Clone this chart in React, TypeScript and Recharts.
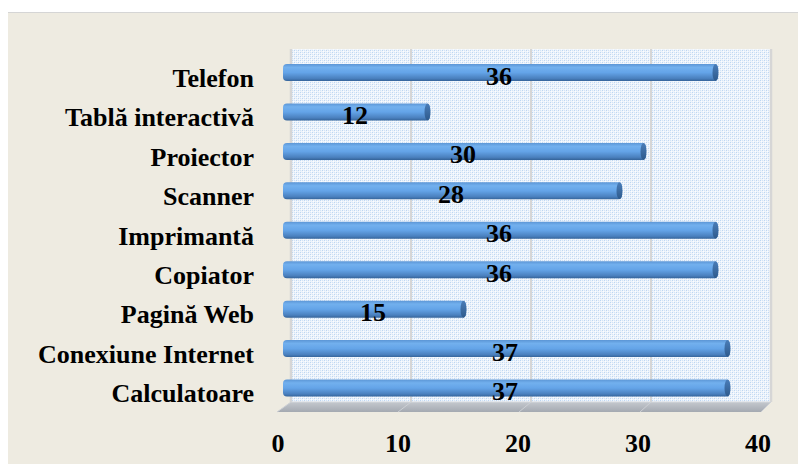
import { BarChart, Bar, XAxis, YAxis, LabelList, ReferenceArea } from "recharts";

const categories = [
  "Telefon",
  "Tablă interactivă",
  "Proiector",
  "Scanner",
  "Imprimantă",
  "Copiator",
  "Pagină Web",
  "Conexiune Internet",
  "Calculatoare",
];
const values = [36, 12, 30, 28, 36, 36, 15, 37, 37];
const xTicks = [0, 10, 20, 30, 40];

const data = categories.map((name, i) => ({ name, value: values[i] }));

const FONT = '"Liberation Serif", "Times New Roman", serif';

// back wall + floor of the pseudo-3D plot, drawn from the plot box that recharts hands us
const Walls = (props: any) => {
  const { x, y, width, height } = props;
  const wx = x + 5;
  const wy = y - 4;
  const wb = y + height - 6;
  const fb = y + height + 4;
  const step = width / (xTicks.length - 1);
  return (
    <g>
      <rect x={wx} y={wy} width={width} height={wb - wy} fill="url(#dots)" />
      {xTicks.map((t, i) => (
        <line
          key={t}
          x1={wx + i * step}
          x2={wx + i * step}
          y1={wy}
          y2={wb}
          stroke="#D6D6D6"
          strokeWidth={i === 0 || i === xTicks.length - 1 ? 2.5 : 2}
        />
      ))}
      <polygon
        points={`${wx},${wb} ${wx + width},${wb} ${x + width - 5},${fb} ${x - 9},${fb}`}
        fill="url(#floor)"
      />
      {xTicks.map((t, i) => (
        <line
          key={"f" + t}
          x1={wx + i * step}
          y1={wb}
          x2={x - 9 + i * ((width + 4) / (xTicks.length - 1))}
          y2={fb}
          stroke="#CDD0D5"
          strokeWidth={1}
        />
      ))}
      <line x1={wx} x2={wx + width} y1={wb} y2={wb} stroke="#D4D7DB" strokeWidth={1} />
    </g>
  );
};

// cylinder-ish bar with rounded ends and a darker right cap
const Cylinder = (props: any) => {
  const { x, y, width, height } = props;
  if (width <= 0) return null;
  const x0 = x - 3;
  const w = width + 3;
  return (
    <g>
      <rect x={x0} y={y} width={w} height={height} rx={4} fill="url(#cyl)" />
      <ellipse
        cx={x + width - 2.5}
        cy={y + height / 2}
        rx={3}
        ry={height / 2}
        fill="url(#cap)"
      />
    </g>
  );
};

const CatTick = (props: any) => {
  const { x, y, payload } = props;
  return (
    <text
      x={x - 24}
      y={y + 14}
      textAnchor="end"
      fontFamily={FONT}
      fontWeight="bold"
      fontSize={26}
      fill="#000"
    >
      {payload.value}
    </text>
  );
};

const NumTick = (props: any) => {
  const { x, y, payload } = props;
  return (
    <text
      x={x - 8}
      y={y + 36}
      textAnchor="middle"
      fontFamily={FONT}
      fontWeight="bold"
      fontSize={26}
      fill="#000"
    >
      {payload.value}
    </text>
  );
};

const ValueLabel = (props: any) => {
  const { x, y, width, height, value } = props;
  return (
    <text
      x={x + width / 2 - 3}
      y={y + height / 2 + 12}
      textAnchor="middle"
      fontFamily={FONT}
      fontWeight="bold"
      fontSize={26}
      fill="#000"
    >
      {value}
    </text>
  );
};

export default function App() {
  return (
    <div
      style={{
        position: "relative",
        width: 806,
        height: 472,
        margin: -8,
        background: "#fff",
        overflow: "hidden",
      }}
    >
      <div
        style={{
          position: "absolute",
          left: 6,
          top: 12,
          width: 820,
          height: 480,
          background: "#EEEBE1",
          border: "1px solid #D5D5D5",
        }}
      />
      <div style={{ position: "absolute", left: 0, top: 0 }}>
        <BarChart
          width={806}
          height={472}
          data={data}
          layout="vertical"
          margin={{ top: 53, right: 40, left: 0, bottom: 34 }}
          barSize={17}
        >
          <defs>
            <pattern id="dots" width="4" height="4" patternUnits="userSpaceOnUse">
              <rect width="4" height="4" fill="#EEF4FB" />
              <rect x="0" y="0" width="1" height="1" fill="#BDD6F2" />
              <rect x="2" y="2" width="1" height="1" fill="#BDD6F2" />
              <rect x="2" y="0" width="1" height="1" fill="#D3E4F7" />
              <rect x="0" y="2" width="1" height="1" fill="#D3E4F7" />
              <rect x="1" y="1" width="1" height="1" fill="#FAFCFF" />
              <rect x="3" y="3" width="1" height="1" fill="#FAFCFF" />
            </pattern>
            <linearGradient id="floor" x1="0" y1="0" x2="0" y2="1">
              <stop offset="0%" stopColor="#C4C8CE" />
              <stop offset="100%" stopColor="#A4A9B1" />
            </linearGradient>
            <linearGradient id="cyl" x1="0" y1="0" x2="0" y2="1">
              <stop offset="0%" stopColor="#5C96D6" />
              <stop offset="20%" stopColor="#72B0EE" />
              <stop offset="50%" stopColor="#64A4E8" />
              <stop offset="85%" stopColor="#4A80BE" />
              <stop offset="100%" stopColor="#35649A" />
            </linearGradient>
            <linearGradient id="cap" x1="0" y1="0" x2="0" y2="1">
              <stop offset="0%" stopColor="#4A7DB8" />
              <stop offset="100%" stopColor="#2E5A8C" />
            </linearGradient>
          </defs>
          <ReferenceArea x1={0} x2={40} shape={<Walls />} ifOverflow="visible" />
          <XAxis
            type="number"
            domain={[0, 40]}
            ticks={xTicks}
            axisLine={false}
            tickLine={false}
            height={30}
            tick={<NumTick />}
            interval={0}
          />
          <YAxis
            type="category"
            dataKey="name"
            width={286}
            axisLine={false}
            tickLine={false}
            tick={<CatTick />}
            interval={0}
          />
          <Bar dataKey="value" shape={<Cylinder />} isAnimationActive={false}>
            <LabelList dataKey="value" content={<ValueLabel />} />
          </Bar>
        </BarChart>
      </div>
    </div>
  );
}
